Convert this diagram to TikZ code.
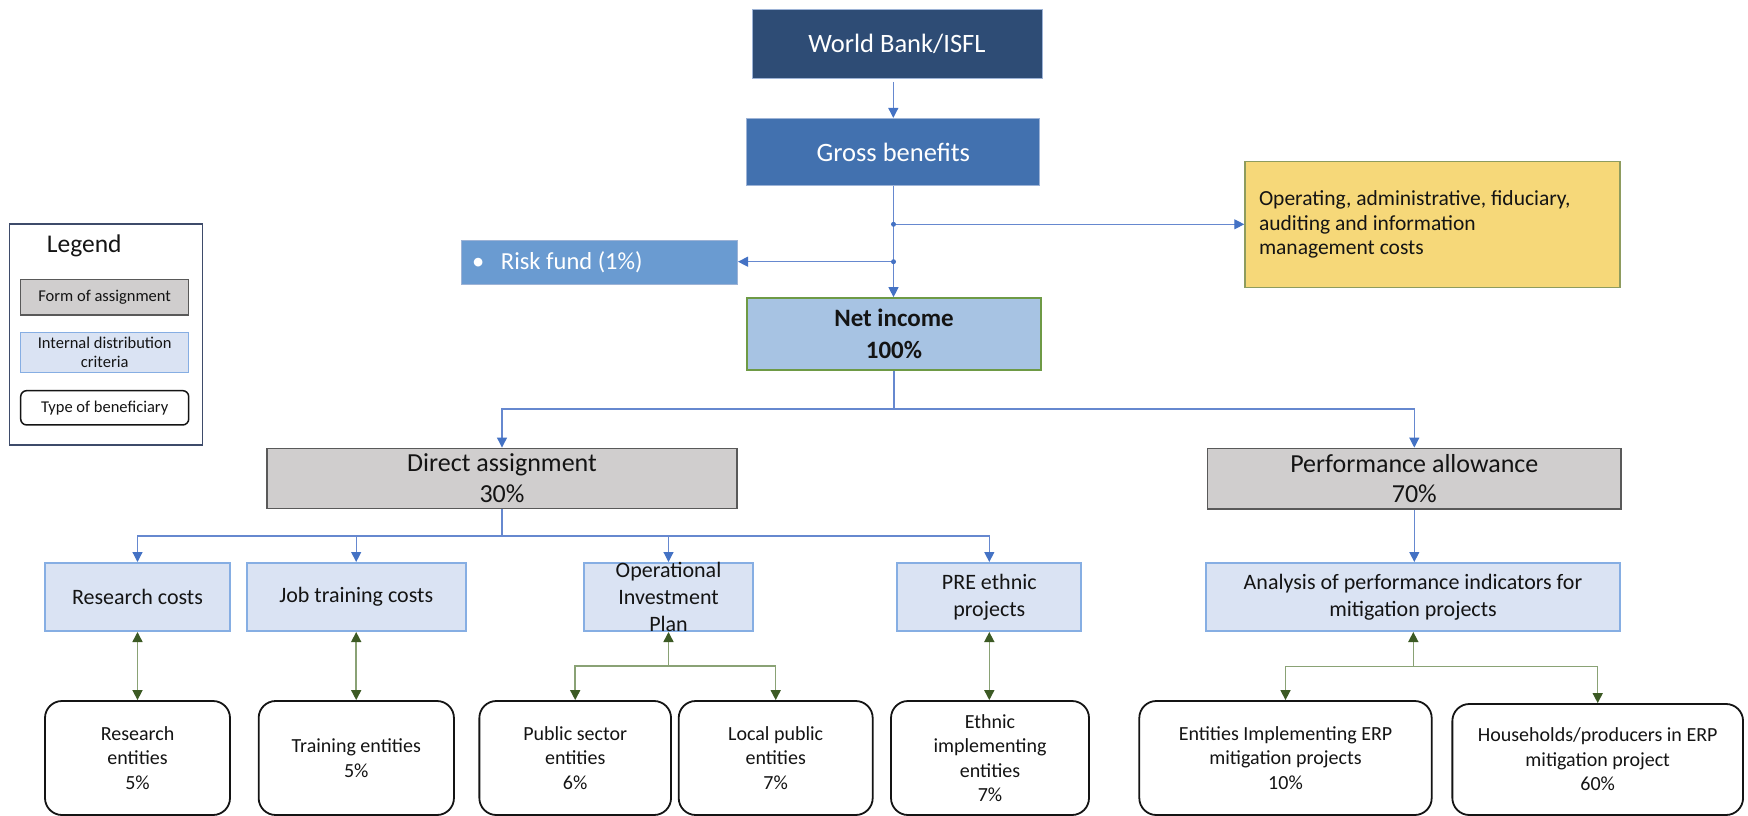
\documentclass[tikz,border=0pt]{standalone}
\usepackage{fontspec}
\setmainfont{Carlito}
\usetikzlibrary{arrows.meta}

\definecolor{cWB}{HTML}{2E4C75}
\definecolor{cGB}{HTML}{4271AF}
\definecolor{cRisk}{HTML}{6A9BD1}
\definecolor{cNet}{HTML}{A7C3E3}
\definecolor{cNetEdge}{HTML}{6E9A45}
\definecolor{cGold}{HTML}{F6D879}
\definecolor{cGoldEdge}{HTML}{8E9C5E}
\definecolor{cGray}{HTML}{D0CECE}
\definecolor{cGrayEdge}{HTML}{595959}
\definecolor{cCrit}{HTML}{DAE3F3}
\definecolor{cCritEdge}{HTML}{86AEE3}
\definecolor{cEdgeLight}{HTML}{9DB3D6}
\definecolor{cLine}{HTML}{6688CF}
\definecolor{cHead}{HTML}{4472C4}
\definecolor{cGLine}{HTML}{8AA275}
\definecolor{cGHead}{HTML}{3C5A24}
\definecolor{cText}{HTML}{141414}
\definecolor{cFrame}{HTML}{3E4B6A}

\begin{document}
\begin{tikzpicture}[x=1pt,y=-1pt,
  every node/.style={inner sep=0pt, align=center, text=cText},
  wbbox/.style={rectangle, fill=cWB, draw=cEdgeLight, line width=0.8pt, text=white,
    font=\fontsize{26.5}{30}\selectfont},
  gbbox/.style={rectangle, fill=cGB, draw=cEdgeLight, line width=0.8pt, text=white,
    font=\fontsize{26.5}{30}\selectfont},
  riskbox/.style={rectangle, fill=cRisk, draw=cEdgeLight, line width=0.8pt, text=white,
    align=flush left, font=\fontsize{24.5}{28}\selectfont},
  netbox/.style={rectangle, fill=cNet, draw=cNetEdge, line width=2pt,
    font=\bfseries\fontsize{25}{31.5}\selectfont},
  opbox/.style={rectangle, fill=cGold, draw=cGoldEdge, line width=1.5pt, align=flush left,
    font=\fontsize{21.5}{24.5}\selectfont},
  formbox/.style={rectangle, fill=cGray, draw=cGrayEdge, line width=1.5pt,
    font=\fontsize{26}{30.5}\selectfont},
  critbox/.style={rectangle, fill=cCrit, draw=cCritEdge, line width=2pt,
    font=\fontsize{22}{26.5}\selectfont},
  benbox/.style={rectangle, fill=white, draw=cText, line width=1.8pt, rounded corners=17pt,
    font=\fontsize{20}{24.5}\selectfont},
  legendframe/.style={rectangle, draw=cFrame, line width=1.5pt, fill=white},
  legsmall/.style={font=\fontsize{16.5}{18.5}\selectfont},
  blueline/.style={draw=cLine, line width=1.2pt},
  bluearrow/.style={blueline, -{Triangle[length=10pt,width=10pt,color=cHead]}},
  greenline/.style={draw=cGLine, line width=1.5pt},
  greendown/.style={greenline, -{Triangle[length=10pt,width=10pt,color=cGHead]}},
  greenboth/.style={greenline, {Triangle[length=10pt,width=10pt,color=cGHead]}-{Triangle[length=10pt,width=10pt,color=cGHead]}},
  joint/.style={fill=cHead}
]
\useasboundingbox (0,0) rectangle (1748,816);

% ---------- legend ----------
\node[legendframe, minimum width=193.4pt, minimum height=221pt] (legend) at (106,334.5) {};
\node[anchor=base, font=\fontsize{25.5}{28}\selectfont] (legendtitle) at (84.2,252.7) {Legend};
\node[formbox, legsmall, minimum width=168pt, minimum height=35.7pt] (lform) at (104.7,297.2) {Form of assignment};
\node[critbox, legsmall, line width=1.5pt, minimum width=168pt, minimum height=40pt] (lcrit) at (104.7,352.3) {Internal distribution\\criteria};
\node[benbox, legsmall, line width=1.5pt, rounded corners=6pt, minimum width=168pt, minimum height=34.3pt] (lben) at (104.7,407.8) {Type of beneficiary};

% ---------- funding chain ----------
\node[wbbox, minimum width=290pt, minimum height=69pt] (wb) at (897,43.5) {World Bank/ISFL};
\node[gbbox, minimum width=293pt, minimum height=67.4pt] (gb) at (893.3,152) {Gross benefits};
\node[opbox, minimum height=125.6pt, inner xsep=14pt, text width=347pt] (op) at (1432.5,224.5)
  {Operating, administrative, fiduciary,\\auditing and information\\management costs};
\node[riskbox, minimum height=44pt, inner xsep=11pt, text width=254.6pt] (risk) at (599.3,262)
  {\textbullet\hspace{16.8pt}Risk fund (1\%)};
\node[netbox, minimum width=293.8pt, minimum height=71.7pt] (net) at (894,334) {Net income\\100\%};

\coordinate (wbfoot) at ([yshift=-3.5pt]wb.south);
\draw[bluearrow] (wbfoot -| gb.north) -- (gb.north);
\coordinate (j1) at (893.5,224.3);
\coordinate (j2) at (893.5,261.7);
\draw[bluearrow] (gb.south -| j1) -- (net.north -| j1);
\draw[bluearrow] (j1) -- (op.west |- j1);
\draw[bluearrow] (j2) -- (risk.east |- j2);
\fill[joint] (j1) circle (2.5pt);
\fill[joint] (j2) circle (2.5pt);

% ---------- forms of assignment ----------
\node[formbox, minimum width=470.3pt, minimum height=60pt] (da) at (502,478.3) {Direct assignment\\30\%};
\node[formbox, minimum width=413.5pt, minimum height=60.7pt] (pa) at (1414.3,478.7) {Performance allowance\\70\%};

\coordinate (nsplit) at (894,409);
\draw[blueline] (net.south) -- (nsplit);
\draw[bluearrow] (nsplit) -| (da.north);
\draw[bluearrow] (nsplit) -| (pa.north);

% ---------- distribution criteria ----------
\node[critbox, minimum width=185pt, minimum height=68pt] (rc) at (137.5,597) {Research costs};
\node[critbox, minimum width=219pt, minimum height=68pt] (jt) at (356.2,597) {Job training costs};
\node[critbox, minimum width=168.4pt, minimum height=68pt] (oip) at (668.5,597) {};
\node[font=\fontsize{22}{27}\selectfont] (oiptext) at (oip.center) {Operational\\Investment\\Plan};
\node[critbox, minimum width=184pt, minimum height=68pt] (pre) at (989.3,597) {PRE ethnic\\projects};
\node[critbox, minimum width=414pt, minimum height=68pt] (an) at (1413,597) {Analysis of performance indicators for\\mitigation projects};

\coordinate (dsplit) at (502,536);
\draw[blueline] (da.south) -- (dsplit);
\draw[bluearrow] (dsplit) -| (rc.north);
\draw[bluearrow] (dsplit) -| (jt.north);
\draw[bluearrow] (dsplit) -| (oip.north);
\draw[bluearrow] (dsplit) -| (pre.north);
\draw[bluearrow] (pa.south) -- (pa.south |- an.north);

% ---------- beneficiaries ----------
\node[benbox, minimum width=185pt, minimum height=114pt] (re) at (137.5,758) {Research\\entities\\5\%};
\node[benbox, minimum width=195.3pt, minimum height=114pt] (te) at (356.3,758) {Training entities\\5\%};
\node[benbox, minimum width=191.7pt, minimum height=114pt] (ps) at (575.2,758) {Public sector\\entities\\6\%};
\node[benbox, minimum width=194pt, minimum height=114pt] (lp) at (775.7,758) {Local public\\entities\\7\%};
\node[benbox, minimum width=198pt, minimum height=114pt] (ee) at (990,758) {Ethnic\\implementing\\entities\\7\%};
\node[benbox, minimum width=292.4pt, minimum height=114pt] (ei) at (1285.5,758) {Entities Implementing ERP\\mitigation projects\\10\%};
\node[benbox, minimum width=290.7pt, minimum height=111pt] (hh) at (1597.7,759.5) {Households/producers in ERP\\mitigation project\\60\%};

\draw[greenboth] (rc.south) -- (re.north -| rc.south);
\draw[greenboth] (jt.south) -- (te.north -| jt.south);
\draw[greenboth] (pre.south) -- (ee.north -| pre.south);

\coordinate (osplit) at (668.5,666);
\draw[greendown] (osplit) -- (oip.south);
\draw[greendown] (osplit) -| (ps.north);
\draw[greendown] (osplit) -| (lp.north);

\coordinate (asplit) at (1413.3,666.7);
\draw[greendown] (asplit) -- (an.south -| asplit);
\draw[greendown] (asplit) -| (ei.north);
\draw[greendown] (asplit) -| (hh.north);
\end{tikzpicture}
\end{document}
